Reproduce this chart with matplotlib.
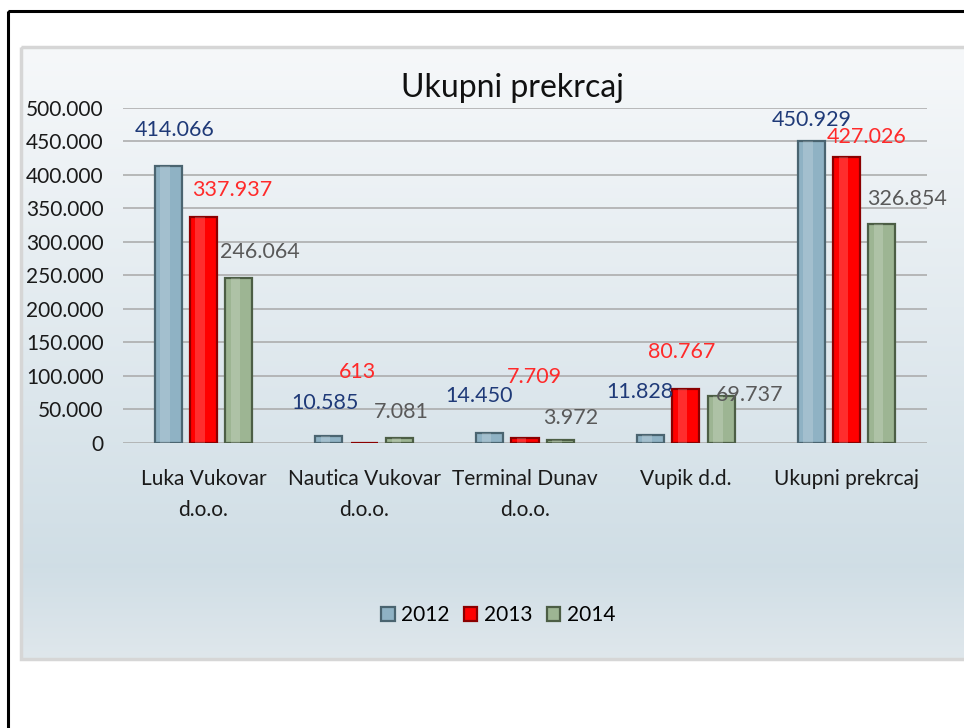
import matplotlib
matplotlib.use("Agg")
import matplotlib.pyplot as plt
import numpy as np
from matplotlib.patches import Rectangle
from matplotlib.ticker import FuncFormatter, MultipleLocator

categories = ["Luka Vukovar\nd.o.o.", "Nautica Vukovar\nd.o.o.", "Terminal Dunav\nd.o.o.",
              "Vupik d.d.", "Ukupni prekrcaj"]
years = ["2012", "2013", "2014"]
v2012 = [414066, 10585, 14450, 11828, 450929]
v2013 = [337937, 613, 7709, 80767, 427026]
v2014 = [246064, 7081, 3972, 69737, 326854]
title = "Ukupni prekrcaj"

# label offsets (pixels) relative to bar top centre, mimicking the original layout
off2012 = [(7, 36), (-4, 33), (-11, 37), (-11, 43), (1, 21)]
off2013 = [(29, 27), (-7, 71), (9, 61), (-4, 37), (20, 20)]
off2014 = [(21, 26), (2, 26), (10, 22), (29, 1), (25, 25)]

series = [v2012, v2013, v2014]
offsets = [off2012, off2013, off2014]
face = ["#8fb2c4", "#ff0000", "#9db593"]
edge = ["#4a6470", "#8a0000", "#4c5e45"]
lab_col = ["#1f3a78", "#ff2a2a", "#595959"]

FONT = ["Lato", "DejaVu Sans"]
plt.rcParams["font.family"] = FONT

W, H = 964, 728
fig = plt.figure(figsize=(W / 100, H / 100), dpi=100)

# background gradient panel
bg = fig.add_axes([0, 0, 1, 1], zorder=-10)
bg.set_xlim(0, W)
bg.set_ylim(H, 0)
bg.axis("off")
t = np.linspace(0, 1, 256)
top = np.array([0.965, 0.973, 0.980])
mid = np.array([0.815, 0.870, 0.900])
bot = np.array([0.875, 0.906, 0.925])
cols = []
for s in t:
    if s < 0.85:
        u = s / 0.85
        cols.append(top * (1 - u) + mid * u)
    else:
        u = (s - 0.85) / 0.15
        cols.append(mid * (1 - u) + bot * u)
grad = np.array(cols)[:, None, :]
bg.imshow(grad, extent=[21, W + 5, 659, 47], aspect="auto", zorder=0)
bg.add_patch(Rectangle((21, 47), W, 612, fill=False, ec="#d6d6d6", lw=2.5, zorder=1))
bg.add_patch(Rectangle((7.5, 10.5), W + 20, H + 20, fill=False, ec="black", lw=2.2, zorder=2))

ax = fig.add_axes([123 / W, 1 - 443 / H, (927 - 123) / W, (443 - 108) / H])
ax.patch.set_alpha(0)
x = np.arange(len(categories))
bw = 0.168
gap = 0.22
for k, (vals, offs) in enumerate(zip(series, offsets)):
    xs = x + (k - 1) * gap
    ax.bar(xs, vals, bw, color=face[k], edgecolor=edge[k], linewidth=1.6, zorder=3,
           label=years[k])
    # highlight stripe for bevel look
    ax.bar(xs - bw * 0.12, vals, bw * 0.35, color="white", alpha=0.18, linewidth=0, zorder=4)
    for xi, v, (dx, dy) in zip(xs, vals, offs):
        ax.annotate(f"{v:,}".replace(",", "."), xy=(xi, v), xytext=(dx, dy),
                    textcoords="offset pixels", ha="center", va="center",
                    fontsize=15.5, color=lab_col[k], zorder=5)

ax.set_xlim(-0.5, len(categories) - 0.5)
ax.set_ylim(0, 500000)
ax.yaxis.set_major_locator(MultipleLocator(50000))
ax.yaxis.set_major_formatter(FuncFormatter(lambda v, p: "0" if v == 0 else f"{int(v):,}".replace(",", ".")))
ax.grid(axis="y", color="#a8a8a8", linewidth=1.1, zorder=0)
ax.set_axisbelow(True)
for s in ax.spines.values():
    s.set_visible(False)
ax.tick_params(axis="both", length=0, labelsize=15, colors="#1a1a1a")
ax.tick_params(axis="y", pad=14)
ax.tick_params(axis="x", pad=19)
ax.set_xticks(x)
ax.set_xticklabels(categories, linespacing=1.65)

fig.text(512 / W, 1 - 88 / H, title, ha="center", va="center", fontsize=23, color="#111111")

leg = ax.legend(loc="center", bbox_to_anchor=(498 / W, 1 - 615 / H), bbox_transform=fig.transFigure,
                ncol=3, frameon=False, fontsize=15, handlelength=0.65, handleheight=0.65,
                handletextpad=0.3, columnspacing=0.7)

fig.savefig("out.png", dpi=100)
